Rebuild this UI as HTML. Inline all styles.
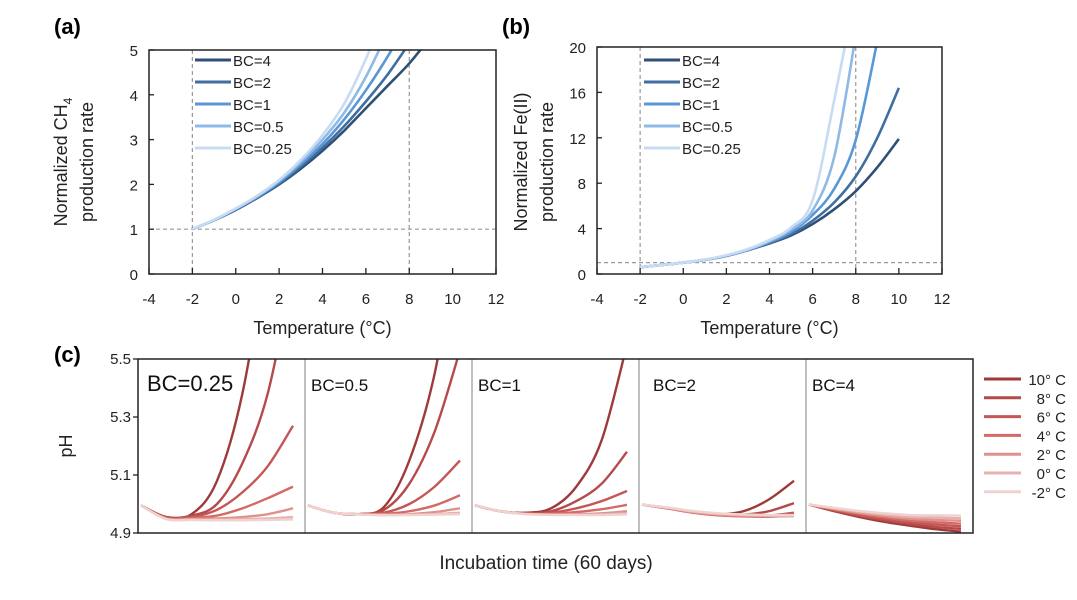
<!DOCTYPE html>
<html><head><meta charset="utf-8">
<style>
body{margin:0;background:#fff;}
svg{display:block;font-family:"Liberation Sans",sans-serif;}
</style></head>
<body>
<svg id="fig" width="1077" height="600" viewBox="0 0 1077 600">
<defs>
<clipPath id="clipA"><rect x="149" y="50" width="347" height="224"/></clipPath>
<clipPath id="clipB"><rect x="597" y="47" width="345" height="227"/></clipPath>
<clipPath id="clipC"><rect x="138" y="359" width="835" height="174"/></clipPath>
</defs>
<g id="gA"></g>
<g id="gB"></g>
<g id="gC"></g>
</svg>
<script>
const NS="http://www.w3.org/2000/svg";
// ---- data ----
const bcLabels=["BC=4","BC=2","BC=1","BC=0.5","BC=0.25"];
const bcColors=["#2f4f75","#3f6ea0","#5a97d6","#8fb9e6","#c7dcf3"];
const tempsA=[-2,-1,0,1,2,3,4,5,6,7,8,9];
const ch4_bc4=[1,1.2,1.43,1.7,2.0,2.35,2.75,3.2,3.7,4.2,4.7,5.3];
const ch4_bc2=[1,1.2,1.44,1.71,2.02,2.4,2.82,3.3,3.85,4.45,5.15];
const ch4_bc1=[1,1.2,1.45,1.72,2.05,2.45,2.9,3.45,4.1,4.85,5.7];
const ch4_bc05=[1,1.21,1.46,1.74,2.08,2.5,3.0,3.6,4.4,5.4];
const ch4_bc025=[1,1.21,1.46,1.75,2.1,2.55,3.1,3.8,4.8,6.0];
const tempsB=[-2,-1,0,1,2,3,4,5,6,7,8,9,10];
const fe_bc4=[0.6,0.8,1.0,1.25,1.6,2.1,2.7,3.4,4.4,5.7,7.3,9.4,11.9];
const fe_bc2=[0.6,0.8,1.0,1.25,1.6,2.1,2.75,3.5,4.7,6.3,8.6,12,16.4];
const fe_bc1=[0.6,0.8,1.0,1.25,1.62,2.12,2.8,3.7,5.2,7.5,11.8,20.5];
const fe_bc05=[0.6,0.8,1.0,1.26,1.63,2.15,2.9,3.9,5.6,10.3,21];
const fe_bc025=[0.6,0.8,1.0,1.27,1.65,2.2,3.0,4.1,6.5,15.3,25];
const xTicksAB=[-4,-2,0,2,4,6,8,10,12];
const yTicksA=[0,1,2,3,4,5];
const yTicksB=[0,4,8,12,16,20];
const days=[0,10,20,30,40,50,60];
const tempLabels=["10° C","8° C","6° C","4° C","2° C","0° C","-2° C"];
const tempColors=["#9e3a3a","#b54a4a","#c65656","#d46a65","#de928c","#e6b2ae","#efd3d1"];
const panelLabelsC=["BC=0.25","BC=0.5","BC=1","BC=2","BC=4"];
const yTicksC=[4.9,5.1,5.3,5.5];
const ph_bc025=[
[4.995,4.955,4.965,5.08,5.38,5.9,6.5],
[4.995,4.955,4.96,5.0,5.14,5.38,5.8],
[4.995,4.953,4.955,4.98,5.04,5.13,5.27],
[4.995,4.95,4.952,4.96,4.985,5.02,5.06],
[4.995,4.95,4.948,4.95,4.955,4.965,4.985],
[4.995,4.948,4.946,4.946,4.948,4.95,4.955],
[4.995,4.948,4.945,4.944,4.944,4.945,4.947]];
const ph_bc05=[
[4.995,4.97,4.965,4.99,5.15,5.45,5.95],
[4.995,4.97,4.965,4.98,5.07,5.25,5.53],
[4.995,4.97,4.965,4.97,5.0,5.06,5.15],
[4.995,4.97,4.965,4.966,4.975,4.995,5.03],
[4.995,4.97,4.965,4.963,4.965,4.972,4.985],
[4.995,4.97,4.964,4.962,4.963,4.965,4.97],
[4.995,4.97,4.964,4.962,4.962,4.963,4.965]];
const ph_bc1=[
[4.995,4.975,4.97,4.985,5.06,5.22,5.55],
[4.995,4.975,4.968,4.975,5.01,5.07,5.18],
[4.995,4.975,4.967,4.97,4.985,5.01,5.045],
[4.995,4.975,4.966,4.966,4.972,4.982,4.997],
[4.995,4.975,4.966,4.964,4.965,4.968,4.975],
[4.995,4.975,4.966,4.963,4.963,4.964,4.968],
[4.995,4.975,4.965,4.962,4.962,4.962,4.964]];
const ph_bc2=[
[4.998,4.985,4.972,4.965,4.975,5.015,5.08],
[4.998,4.985,4.972,4.963,4.963,4.975,5.003],
[4.998,4.985,4.971,4.962,4.958,4.96,4.97],
[4.998,4.985,4.97,4.961,4.957,4.956,4.96],
[4.998,4.986,4.972,4.963,4.959,4.958,4.958],
[4.998,4.987,4.974,4.966,4.962,4.96,4.96],
[4.998,4.988,4.976,4.968,4.964,4.962,4.962]];
const ph_bc4=[
[4.998,4.975,4.955,4.938,4.925,4.913,4.905],
[4.998,4.977,4.959,4.943,4.931,4.921,4.914],
[4.998,4.979,4.962,4.948,4.937,4.929,4.923],
[4.998,4.981,4.966,4.953,4.943,4.937,4.932],
[4.998,4.983,4.969,4.958,4.949,4.945,4.942],
[4.998,4.985,4.973,4.963,4.956,4.953,4.951],
[4.998,4.987,4.976,4.968,4.962,4.961,4.96]];

// ---- helpers ----
function el(tag,attrs,parent,text){const e=document.createElementNS(NS,tag);for(const k in attrs)e.setAttribute(k,attrs[k]);if(text!==undefined)e.textContent=text;parent.appendChild(e);return e;}
function smooth(pts){let d="M"+pts[0][0]+","+pts[0][1];for(let i=0;i<pts.length-1;i++){const p0=pts[Math.max(0,i-1)],p1=pts[i],p2=pts[i+1],p3=pts[Math.min(pts.length-1,i+2)];const c1=[p1[0]+(p2[0]-p0[0])/6,p1[1]+(p2[1]-p0[1])/6],c2=[p2[0]-(p3[0]-p1[0])/6,p2[1]-(p3[1]-p1[1])/6];d+=" C"+c1[0]+","+c1[1]+" "+c2[0]+","+c2[1]+" "+p2[0]+","+p2[1];}return d;}

function tempPanel(g,L,R,T,B,ymax,yTicks,series,temps,clip,legX,panelLabel,labX,ytitle1,ytitle2,ytX){
  const sx=v=>L+(v+4)/16*(R-L), sy=v=>B-v/ymax*(B-T);
  const lab=el("text",{x:labX,y:34,"font-size":22,"font-weight":"bold",fill:"#000"},g,panelLabel);
  
  
  [-2,8].forEach(v=>{const l=el("line",{x1:sx(v),x2:sx(v),y1:T,y2:B,stroke:"#999","stroke-width":1.2,"stroke-dasharray":"4,3"},g);
    
    });
  const h=el("line",{x1:L,x2:R,y1:sy(1),y2:sy(1),stroke:"#999","stroke-width":1.2,"stroke-dasharray":"4,3"},g);
  
  
  const sg=el("g",{"clip-path":"url(#"+clip+")"},g);
  for(let i=0;i<series.length;i++){
    const pts=series[i].map((v,j)=>[sx(temps[j]),sy(v)]);
    const p=el("path",{d:smooth(pts),fill:"none",stroke:bcColors[i],"stroke-width":2.6},sg);
    
    
  }
  const fr=el("rect",{x:L,y:T,width:R-L,height:B-T,fill:"none",stroke:"#222","stroke-width":1.5},g);
  
  
  xTicksAB.forEach(v=>{el("line",{x1:sx(v),x2:sx(v),y1:B,y2:B-6,stroke:"#222","stroke-width":1.3},g);
    const t=el("text",{x:sx(v),y:B+30,"font-size":15,"text-anchor":"middle",fill:"#222"},g,String(v));
    
    });
  yTicks.forEach(v=>{el("line",{x1:L,x2:L+5,y1:sy(v),y2:sy(v),stroke:"#222","stroke-width":1.3},g);
    const t=el("text",{x:L-11,y:sy(v)+6,"font-size":15,"text-anchor":"end",fill:"#222"},g,String(v));
    
    });
  const xt=el("text",{x:(L+R)/2,y:334,"font-size":18,"text-anchor":"middle",fill:"#222"},g,"Temperature (°C)");
  
  
  const yt=el("text",{transform:"translate("+ytX+",162) rotate(-90)","font-size":18,"text-anchor":"middle",fill:"#222"},g);
  
  
  yt.innerHTML=ytitle1;
  const yt2=el("text",{transform:"translate("+(ytX+26)+",162) rotate(-90)","font-size":18,"text-anchor":"middle",fill:"#222"},g,ytitle2);
  
  
  bcLabels.forEach((lbl,i)=>{const y=60+i*22;
    const lg=el("g",{},g);
    
    
    el("line",{x1:legX,x2:legX+36,y1:y,y2:y,stroke:bcColors[i],"stroke-width":3},lg);
    el("text",{x:legX+38,y:y+6,"font-size":15,fill:"#222"},lg,lbl);});
}
tempPanel(document.getElementById("gA"),149,496,50,274,5,yTicksA,[ch4_bc4,ch4_bc2,ch4_bc1,ch4_bc05,ch4_bc025],tempsA,"clipA",195,"(a)",54,'Normalized CH<tspan font-size="12" dy="5">4</tspan>',"production rate",67);
tempPanel(document.getElementById("gB"),597,942,47,274,20,yTicksB,[fe_bc4,fe_bc2,fe_bc1,fe_bc05,fe_bc025],tempsB,"clipB",644,"(b)",502,'Normalized Fe(II)',"production rate",527);

(function(){
  const g=document.getElementById("gC");
  const L=138,R=973,T=359,B=533,nP=5,pw=(R-L)/nP;
  const sy=v=>B-(v-4.9)/0.6*(B-T);
  const all=[ph_bc025,ph_bc05,ph_bc1,ph_bc2,ph_bc4];
  const lab=el("text",{x:54,y:362,"font-size":22,"font-weight":"bold",fill:"#000"},g,"(c)");
  
  
  const cg=el("g",{"clip-path":"url(#clipC)"},g);
  all.forEach((set,p)=>{
    const x0=L+p*pw+3,x1=L+(p+1)*pw-12;
    const sx=d=>x0+d/60*(x1-x0);
    for(let i=0;i<set.length;i++){
      const pts=set[i].map((v,j)=>[sx(days[j]),sy(v)]);
      const path=el("path",{d:smooth(pts),fill:"none",stroke:tempColors[i],"stroke-width":2.4},cg);
      
      
    }
    const t=el("text",{x:L+p*pw+(p===0?9:(p===3?14:6)),y:391,"font-size":p===0?22:17,fill:"#111"},g,panelLabelsC[p]);
    
    
    if(p>0){const dv=el("line",{x1:L+p*pw,x2:L+p*pw,y1:T,y2:B,stroke:"#aaa","stroke-width":1.5},g);
      
      }
  });
  const fr=el("rect",{x:L,y:T,width:R-L,height:B-T,fill:"none",stroke:"#222","stroke-width":1.5},g);
  
  
  yTicksC.forEach(v=>{el("line",{x1:L,x2:L-5,y1:sy(v),y2:sy(v),stroke:"#222","stroke-width":1.3},g);
    const t=el("text",{x:L-7,y:sy(v)+5,"font-size":15,"text-anchor":"end",fill:"#222"},g,v.toFixed(1));
    
    });
  const yt=el("text",{transform:"translate(72,446) rotate(-90)","font-size":18,"text-anchor":"middle",fill:"#222"},g,"pH");
  
  
  const xt=el("text",{x:546,y:569,"font-size":19,"text-anchor":"middle",fill:"#222"},g,"Incubation time (60 days)");
  
  
  tempLabels.forEach((lbl,i)=>{const y=379+i*18.8;
    const lg=el("g",{},g);
    
    
    el("line",{x1:984,x2:1021,y1:y,y2:y,stroke:tempColors[i],"stroke-width":3},lg);
    el("text",{x:1066,y:y+6,"font-size":15,"text-anchor":"end",fill:"#222"},lg,lbl);});
})();
</script>
</body></html>
